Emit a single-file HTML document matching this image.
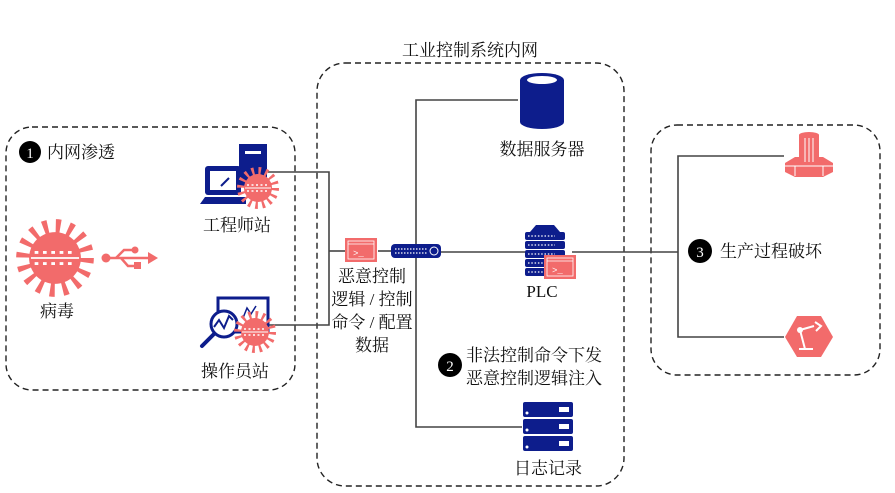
<!DOCTYPE html>
<html><head><meta charset="utf-8"><style>
html,body{margin:0;padding:0;background:#fff;}
svg{display:block;}
text{font-family:"Liberation Serif","Noto Serif CJK SC",serif;fill:#111;}
</style></head><body>
<svg width="895" height="493" viewBox="0 0 895 493" xmlns="http://www.w3.org/2000/svg">
<defs>
<g id="virus">
  <circle r="14" fill="#f26b6b"/>
  <circle r="17" fill="none" stroke="#f26b6b" stroke-width="8" stroke-dasharray="2.5 4.2"/>
  <line x1="-13" y1="0" x2="13" y2="0" stroke="#fff" stroke-width="1"/>
  <line x1="-11" y1="-3" x2="11" y2="-3" stroke="#fff" stroke-width="1.6" stroke-dasharray="2 2.5"/>
  <line x1="-11" y1="3" x2="11" y2="3" stroke="#fff" stroke-width="1.6" stroke-dasharray="2 2.5"/>
</g>
<g id="term">
  <rect x="0" y="0" width="32" height="24" fill="#f26b6b"/>
  <rect x="3" y="3" width="26" height="18" fill="none" stroke="#fff" stroke-width="0.8"/>
  <line x1="3" y1="6" x2="29" y2="6" stroke="#fff" stroke-width="0.8"/>
  <text x="8" y="18" font-size="9" style="fill:#fff;font-family:'Liberation Mono',monospace">&gt;_</text>
</g>
</defs>

<rect x="6" y="127" width="289" height="263" rx="26" fill="none" stroke="#222" stroke-width="1.4" stroke-dasharray="6 4"/>
<rect x="317" y="63" width="307" height="423" rx="28" fill="none" stroke="#222" stroke-width="1.4" stroke-dasharray="6 4"/>
<rect x="651" y="125" width="229" height="250" rx="26" fill="none" stroke="#222" stroke-width="1.4" stroke-dasharray="6 4"/>

<text x="470" y="56" font-size="17" text-anchor="middle">工业控制系统内网</text>

<g fill="none" stroke="#444" stroke-width="1.6">
<polyline points="268,172 329,172 329,325 268,325"/>
<line x1="329" y1="251" x2="345" y2="251"/>
<line x1="378" y1="251" x2="391" y2="251"/>
<line x1="441" y1="252" x2="525" y2="252"/>
<polyline points="518,100 416,100 416,427 522,427"/>
<line x1="572" y1="252" x2="678" y2="252"/>
<polyline points="784,156 678,156 678,337 784,337"/>
</g>

<circle cx="30" cy="152" r="11" fill="#000"/>
<text x="30" y="158" font-size="15" text-anchor="middle" style="fill:#fff">1</text>
<text x="47" y="158" font-size="17">内网渗透</text>

<g transform="translate(55,258) scale(1.85)"><use href="#virus"/></g>
<text x="57" y="317" font-size="17" text-anchor="middle">病毒</text>
<g fill="#f26b6b" stroke="#f26b6b">
<circle cx="106" cy="258" r="4.5" stroke="none"/>
<line x1="106" y1="258" x2="150" y2="258" stroke-width="2.5"/>
<polygon points="148,252 158,258 148,264" stroke="none"/>
<polyline points="116,258 124,250 134,250" fill="none" stroke-width="2.5"/>
<circle cx="135" cy="250" r="3.5" stroke="none"/>
<polyline points="121,258 128,266 136,266" fill="none" stroke-width="2.5"/>
<rect x="134" y="262" width="7" height="7" stroke="none"/>
</g>

<rect x="239" y="144" width="28" height="42" fill="#0d1d8c"/>
<rect x="245" y="151" width="16" height="3" fill="#fff"/>
<rect x="205" y="166" width="36" height="29" rx="3" fill="#0d1d8c"/>
<rect x="210" y="171" width="26" height="19" fill="#fff"/>
<line x1="221" y1="186" x2="229" y2="178" stroke="#0d1d8c" stroke-width="2"/>
<polygon points="200,204 205,197 246,197 246,204" fill="#0d1d8c"/>
<g transform="translate(258,188)"><use href="#virus"/></g>
<text x="237" y="231" font-size="17" text-anchor="middle">工程师站</text>

<rect x="218" y="298" width="50" height="34" fill="none" stroke="#0d1d8c" stroke-width="3"/>
<polyline points="243,318 247,308 251,314 256,306" fill="none" stroke="#0d1d8c" stroke-width="1.5"/>
<circle cx="224" cy="324" r="13" fill="#fff" stroke="#0d1d8c" stroke-width="3"/>
<polyline points="214,327 219,320 224,328 229,316 233,320" fill="none" stroke="#0d1d8c" stroke-width="2"/>
<line x1="214" y1="334" x2="202" y2="346" stroke="#0d1d8c" stroke-width="4" stroke-linecap="round"/>
<g transform="translate(255,332)"><use href="#virus"/></g>
<text x="235" y="377" font-size="17" text-anchor="middle">操作员站</text>

<g transform="translate(345,238)"><use href="#term"/></g>
<rect x="391" y="244" width="50" height="14" rx="4" fill="#0d1d8c"/>
<line x1="395" y1="249" x2="428" y2="249" stroke="#fff" stroke-width="1.3" stroke-dasharray="1.5 1.5"/>
<line x1="395" y1="253" x2="428" y2="253" stroke="#fff" stroke-width="1.3" stroke-dasharray="1.5 1.5"/>
<circle cx="434" cy="251" r="4" fill="none" stroke="#fff" stroke-width="1"/>
<text font-size="17" text-anchor="middle"><tspan x="372" y="282">恶意控制</tspan><tspan x="372" y="305">逻辑 / 控制</tspan><tspan x="372" y="328">命令 / 配置</tspan><tspan x="372" y="351">数据</tspan></text>

<path d="M520,80 L520,122 A22,7 0 0 0 564,122 L564,80 Z" fill="#0d1d8c"/>
<ellipse cx="542" cy="80" rx="22" ry="7" fill="#0d1d8c"/>
<ellipse cx="542" cy="80" rx="15" ry="4" fill="#fff"/>
<text x="542" y="155" font-size="17" text-anchor="middle">数据服务器</text>

<path d="M530,232 L536,225 L554,225 L560,232 Z" fill="#0d1d8c"/>
<g fill="#0d1d8c">
<rect x="525" y="232" width="40" height="8" rx="2"/><rect x="525" y="241" width="40" height="8" rx="2"/>
<rect x="525" y="250" width="40" height="8" rx="2"/><rect x="525" y="259" width="40" height="8" rx="2"/>
<rect x="525" y="268" width="40" height="8" rx="2"/>
</g>
<g stroke="#fff" stroke-width="1.2" stroke-dasharray="1.5 1.8"><line x1="528" y1="236" x2="555" y2="236"/><line x1="528" y1="245" x2="555" y2="245"/><line x1="528" y1="254" x2="555" y2="254"/><line x1="528" y1="263" x2="555" y2="263"/><line x1="528" y1="272" x2="555" y2="272"/></g>
<g transform="translate(544,255)"><use href="#term"/></g>
<text x="542" y="297" font-size="17" text-anchor="middle">PLC</text>

<circle cx="450" cy="365" r="12" fill="#000"/>
<text x="450" y="371" font-size="15" text-anchor="middle" style="fill:#fff">2</text>
<text x="466" y="361" font-size="17">非法控制命令下发</text>
<text x="466" y="384" font-size="17">恶意控制逻辑注入</text>

<g fill="#0d1d8c"><rect x="523" y="402" width="50" height="15" rx="2"/><rect x="523" y="419" width="50" height="15" rx="2"/><rect x="523" y="436" width="50" height="15" rx="2"/></g>
<g fill="#fff"><circle cx="527" cy="413" r="1.5"/><circle cx="527" cy="430" r="1.5"/><circle cx="527" cy="447" r="1.5"/>
<rect x="559" y="407" width="10" height="5"/><rect x="559" y="424" width="10" height="5"/><rect x="559" y="441" width="10" height="5"/></g>
<text x="548" y="474" font-size="17" text-anchor="middle">日志记录</text>

<circle cx="700" cy="251" r="12" fill="#000"/>
<text x="700" y="257" font-size="15" text-anchor="middle" style="fill:#fff">3</text>
<text x="720" y="257" font-size="17">生产过程破坏</text>

<polygon points="785,163 795,157 823,157 833,163 833,172 823,177 795,177 785,172" fill="#f26b6b"/>
<rect x="799" y="135" width="20" height="28" fill="#f26b6b"/>
<ellipse cx="809" cy="135" rx="10" ry="3" fill="#f26b6b"/>
<g stroke="#fff" stroke-width="1"><line x1="805" y1="138" x2="805" y2="162"/><line x1="809" y1="138" x2="809" y2="162"/><line x1="813" y1="138" x2="813" y2="162"/><line x1="785" y1="166" x2="833" y2="166"/><line x1="795" y1="166" x2="795" y2="176"/><line x1="823" y1="166" x2="823" y2="176"/></g>

<polygon points="785,337 797,316 821,316 833,337 821,357 797,357" fill="#f26b6b"/>
<g stroke="#fff" stroke-width="2" fill="none">
<line x1="799" y1="349" x2="813" y2="349"/><line x1="805" y1="349" x2="800" y2="330"/><line x1="800" y1="330" x2="814" y2="326"/>
<path d="M815,322 L821,326 L816,331"/></g>
<circle cx="800" cy="330" r="3" fill="#fff"/>
</svg>
</body></html>
